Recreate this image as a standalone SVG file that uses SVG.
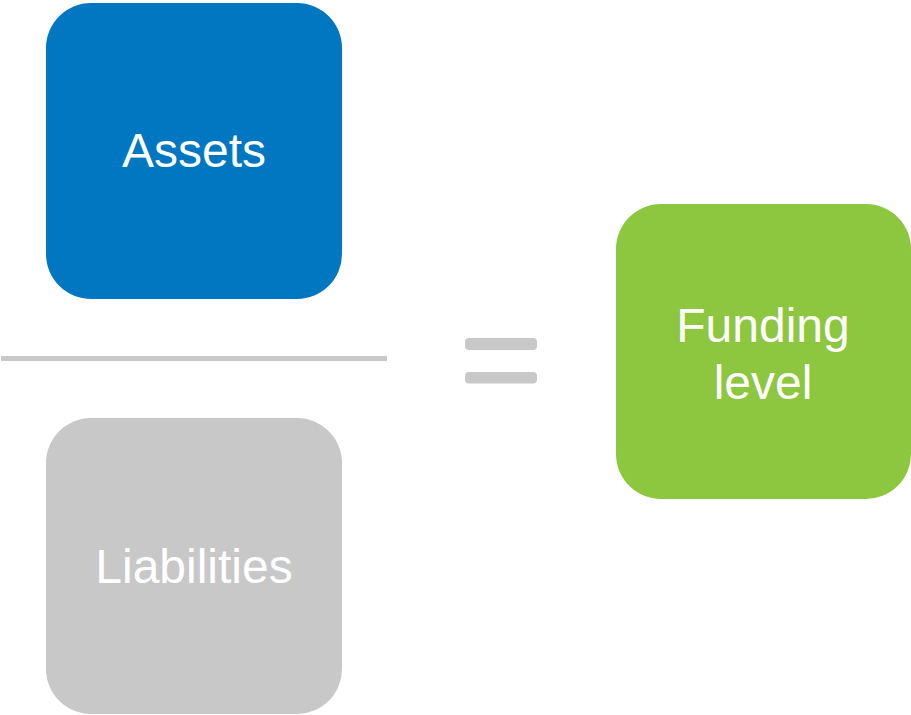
<svg xmlns="http://www.w3.org/2000/svg" width="911" height="715" viewBox="0 0 911 715">
<style>
.lbl{font-family:"Liberation Sans",Arial,sans-serif;font-size:48px;fill:#ffffff;text-anchor:middle}
.bar{fill:#c8c8c8}
</style>
<rect width="911" height="715" fill="#ffffff"/>
<g id="assets">
<rect x="46" y="3" width="296" height="296" rx="45" ry="45" fill="#0077c0"/>
<text class="lbl" x="194" y="167">Assets</text>
</g>
<g id="liabilities">
<rect x="46" y="418" width="296" height="296" rx="45" ry="45" fill="#c8c8c8"/>
<text class="lbl" x="194" y="583">Liabilities</text>
</g>
<g id="funding-level">
<rect x="616" y="204" width="295" height="295" rx="45" ry="45" fill="#8dc63f"/>
<text class="lbl" x="763" y="342">Funding</text>
<text class="lbl" x="763" y="399">level</text>
</g>
<g id="connectors">
<rect class="bar" x="1" y="356" width="386" height="5"/>
<rect class="bar" x="465" y="338" width="72" height="12" rx="4" ry="4"/>
<rect class="bar" x="465" y="372" width="72" height="11.5" rx="4" ry="4"/>
</g>
</svg>
